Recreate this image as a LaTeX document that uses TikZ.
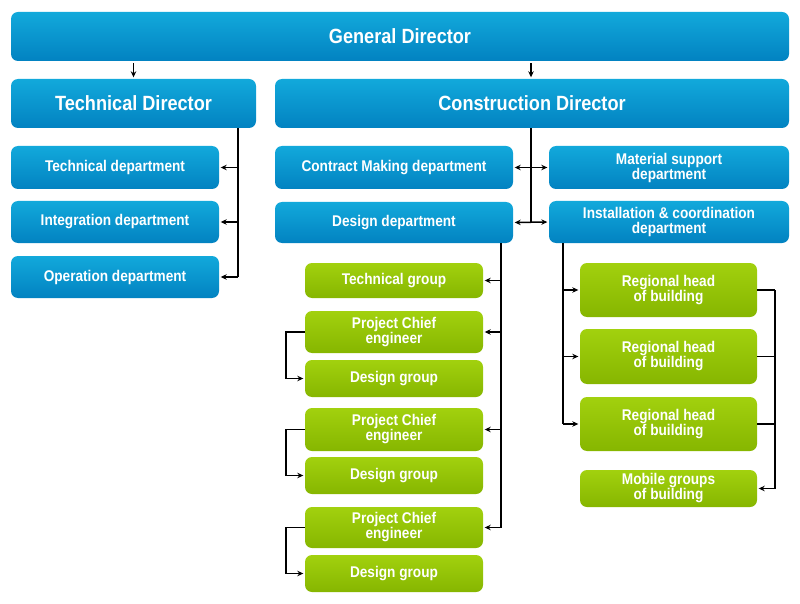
\documentclass[tikz,border=0pt]{standalone}
\usepackage{fontspec}
\setmainfont{Liberation Sans}[FakeStretch=0.88]
\usetikzlibrary{arrows.meta}
\definecolor{bluetop}{HTML}{12A9DB}
\definecolor{bluebot}{HTML}{0282C1}
\definecolor{greentop}{HTML}{A2D10E}
\definecolor{greenbot}{HTML}{86B600}
\tikzset{
  box/.style={rounded corners=7pt, inner sep=0pt, align=center, text=white,
    font=\bfseries\fontsize{15.5}{15}\selectfont},
  bluebox/.style={box, top color=bluetop, bottom color=bluebot},
  greenbox/.style={box, top color=greentop, bottom color=greenbot},
  bigbox/.style={bluebox, font=\bfseries\fontsize{20.6}{20}\selectfont},
  conn/.style={draw=black, line width=1.5pt},
  arr/.style={conn, -{Stealth[length=6pt,width=5.5pt]}, shorten >=1.5pt},
  arrtwo/.style={conn, {Stealth[length=6pt,width=5.5pt]}-{Stealth[length=6pt,width=5.5pt]}, shorten >=1.5pt, shorten <=1.5pt}
}
\begin{document}
\begin{tikzpicture}[x=1pt,y=-1pt]
\useasboundingbox (0,0) rectangle (800,604);
% blue level
\node[bigbox, minimum width=778pt, minimum height=49pt] (gd) at (400,36.5) {General Director};
\node[bigbox, minimum width=245pt, minimum height=49pt] (td) at (133.5,103.5) {Technical Director};
\node[bigbox, minimum width=514pt, minimum height=49pt] (cd) at (532,103.5) {Construction Director};
\node[bluebox, minimum width=208pt, minimum height=43pt] (tdep) at (115,167.5) {Technical department};
\node[bluebox, minimum width=208pt, minimum height=42pt] (idep) at (115,222) {Integration department};
\node[bluebox, minimum width=208pt, minimum height=42pt] (odep) at (115,277) {Operation department};
\node[bluebox, minimum width=238pt, minimum height=43pt] (cmd) at (394,167.5) {Contract Making department};
\node[bluebox, minimum width=238pt, minimum height=41pt] (dd) at (394,222.5) {Design department};
\node[bluebox, minimum width=240pt, minimum height=43pt] (msd) at (669,167.5) {Material support\\department};
\node[bluebox, minimum width=240pt, minimum height=42pt] (icd) at (669,222) {Installation \& coordination\\department};
% green level left
\node[greenbox, minimum width=178pt, minimum height=35pt] (tg) at (394,280.5) {Technical group};
\node[greenbox, minimum width=178pt, minimum height=42pt] (pce1) at (394,332) {Project Chief\\engineer};
\node[greenbox, minimum width=178pt, minimum height=37pt] (dg1) at (394,378.5) {Design group};
\node[greenbox, minimum width=178pt, minimum height=43pt] (pce2) at (394,429.5) {Project Chief\\engineer};
\node[greenbox, minimum width=178pt, minimum height=37pt] (dg2) at (394,475.5) {Design group};
\node[greenbox, minimum width=178pt, minimum height=41pt] (pce3) at (394,527.5) {Project Chief\\engineer};
\node[greenbox, minimum width=178pt, minimum height=37pt] (dg3) at (394,573.5) {Design group};
% green level right
\node[greenbox, minimum width=177pt, minimum height=54pt] (rh1) at (668.5,290) {Regional head\\of building};
\node[greenbox, minimum width=177pt, minimum height=55pt] (rh2) at (668.5,356.5) {Regional head\\of building};
\node[greenbox, minimum width=177pt, minimum height=54pt] (rh3) at (668.5,424) {Regional head\\of building};
\node[greenbox, minimum width=177pt, minimum height=37pt] (mob) at (668.5,488.5) {Mobile groups\\of building};
% coordinates for trunks
\coordinate (tl) at (238,0);
\coordinate (ct) at (531,0);
\coordinate (dt) at (501,0);
\coordinate (it) at (563,0);
\coordinate (rt) at (775,0);
\coordinate (lb) at (286,0);
% top arrows
\draw[arr, shorten <=2pt] (gd.south -| td.north) -- (td.north);
\draw[arr, shorten <=2pt] (gd.south -| ct) -- (cd.north -| ct);
% technical director trunk
\draw[conn] (td.south -| tl) -- (tl |- odep.east);
\draw[arr] (tl |- tdep.east) -- (tdep.east);
\draw[arr] (tl |- idep.east) -- (idep.east);
\draw[arr] (tl |- odep.east) -- (odep.east);
% construction director trunk
\draw[conn] (cd.south -| ct) -- (ct |- dd.east);
\draw[arrtwo] (cmd.east) -- (msd.west);
\draw[arrtwo] (dd.east) -- (icd.west);
% design department trunk
\draw[conn] (dd.south -| dt) -- (dt |- pce3.east);
\draw[arr] (dt |- tg.east) -- (tg.east);
\draw[arr] (dt |- pce1.east) -- (pce1.east);
\draw[arr] (dt |- pce2.east) -- (pce2.east);
\draw[arr] (dt |- pce3.east) -- (pce3.east);
% brackets
\draw[arr] (pce1.west) -- (lb |- pce1.west) -- (lb |- dg1.west) -- (dg1.west);
\draw[arr] (pce2.west) -- (lb |- pce2.west) -- (lb |- dg2.west) -- (dg2.west);
\draw[arr] (pce3.west) -- (lb |- pce3.west) -- (lb |- dg3.west) -- (dg3.west);
% installation trunk
\draw[conn] (icd.south -| it) -- (it |- rh3.west);
\draw[arr] (it |- rh1.west) -- (rh1.west);
\draw[arr] (it |- rh2.west) -- (rh2.west);
\draw[arr] (it |- rh3.west) -- (rh3.west);
% right bracket
\draw[conn] (rh1.east) -- (rt |- rh1.east);
\draw[conn] (rh2.east) -- (rt |- rh2.east);
\draw[conn] (rh3.east) -- (rt |- rh3.east);
\draw[arr] (rt |- rh1.east) -- (rt |- mob.east) -- (mob.east);
\end{tikzpicture}
\end{document}
